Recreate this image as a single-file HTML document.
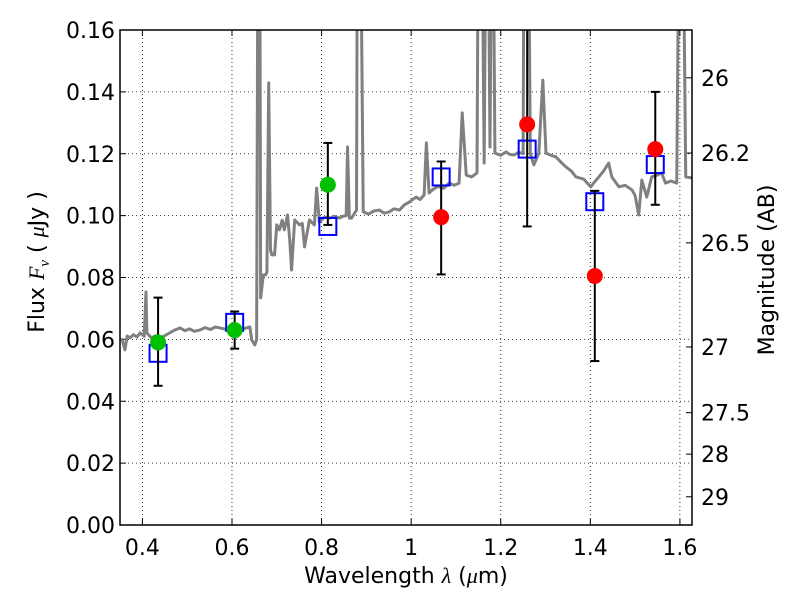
<!DOCTYPE html>
<html><head><meta charset="utf-8"><style>
body{margin:0;background:#fff}
svg{display:block;font-family:"DejaVu Sans","Liberation Sans",sans-serif}
</style></head><body>
<svg id="chart" width="800" height="600"></svg>
<script>
const xTicks=[0.4,0.6,0.8,1.0,1.2,1.4,1.6];
const xTickLabels=["0.4","0.6","0.8","1","1.2","1.4","1.6"];
const yTicks=[0,0.02,0.04,0.06,0.08,0.1,0.12,0.14,0.16];
const yTickLabels=["0.00","0.02","0.04","0.06","0.08","0.10","0.12","0.14","0.16"];
const magTicks=[26,26.2,26.5,27,27.5,28,29];
const magTickLabels=["26","26.2","26.5","27","27.5","28","29"];
const specWave=[0.354,0.361,0.366,0.372,0.380,0.388,0.395,0.404,0.408,0.410,0.420,0.430,0.439,0.450,0.461,0.472,0.484,0.495,0.505,0.516,0.528,0.540,0.552,0.563,0.573,0.585,0.596,0.607,0.617,0.630,0.640,0.644,0.651,0.655,0.658,0.662,0.664,0.670,0.675,0.678,0.682,0.686,0.689,0.695,0.700,0.706,0.712,0.717,0.724,0.729,0.733,0.740,0.751,0.757,0.762,0.773,0.784,0.789,0.795,0.806,0.818,0.829,0.840,0.848,0.855,0.858,0.862,0.867,0.878,0.880,0.887,0.893,0.905,0.917,0.929,0.940,0.951,0.962,0.974,0.985,0.996,1.011,1.020,1.029,1.034,1.040,1.047,1.060,1.072,1.085,1.096,1.107,1.114,1.123,1.135,1.147,1.150,1.158,1.163,1.167,1.172,1.176,1.180,1.183,1.187,1.200,1.212,1.220,1.230,1.240,1.250,1.252,1.262,1.266,1.274,1.285,1.294,1.301,1.312,1.323,1.335,1.346,1.357,1.368,1.385,1.401,1.410,1.419,1.430,1.441,1.448,1.464,1.478,1.493,1.500,1.508,1.515,1.526,1.537,1.548,1.559,1.568,1.580,1.593,1.598,1.607,1.613,1.627];
const specFlux=[0.0604,0.0566,0.0611,0.0605,0.0615,0.0608,0.0621,0.061,0.0753,0.0621,0.0605,0.0612,0.0604,0.0612,0.0621,0.063,0.0637,0.0628,0.0634,0.0626,0.063,0.0638,0.0632,0.064,0.0637,0.0633,0.0638,0.0631,0.063,0.0636,0.064,0.0598,0.0582,0.06,0.2,0.2,0.0734,0.0808,0.0808,0.0818,0.1429,0.0889,0.0873,0.0873,0.097,0.0954,0.0985,0.0954,0.1002,0.0921,0.0824,0.0986,0.097,0.0975,0.0899,0.0986,0.097,0.1089,0.0979,0.0995,0.0992,0.0998,0.0992,0.0998,0.1,0.1222,0.0992,0.0992,0.1018,0.2,0.2,0.1012,0.1005,0.1015,0.1018,0.1008,0.1012,0.1022,0.1018,0.1035,0.1044,0.106,0.1052,0.1067,0.1235,0.1073,0.1083,0.1095,0.1088,0.1105,0.1098,0.1105,0.1332,0.1131,0.1125,0.1138,0.2,0.2,0.117,0.2,0.2,0.1222,0.2,0.2,0.1202,0.1195,0.1206,0.1198,0.1196,0.1205,0.12,0.2,0.2,0.12,0.1164,0.1202,0.1438,0.1202,0.1195,0.119,0.1172,0.1157,0.1145,0.1125,0.1118,0.1093,0.111,0.1125,0.1145,0.117,0.1125,0.1093,0.1098,0.1083,0.1065,0.1002,0.1115,0.106,0.1125,0.113,0.1138,0.1105,0.1112,0.1105,0.2,0.2,0.1125,0.1122];
const bandWave=[0.435,0.606,0.814,1.067,1.259,1.41,1.545];
const obsFlux=[0.059,0.063,0.110,0.0995,0.1295,0.0805,0.1215];
const errLow=[0.045,0.057,0.097,0.081,0.0965,0.053,0.1035];
const errHigh=[0.0735,0.069,0.1235,0.1175,0.175,0.108,0.140];
const obsColor=["#00c000","#00c000","#00c000","#ff0000","#ff0000","#ff0000","#ff0000"];
const modelFlux=[0.0555,0.0655,0.0965,0.1125,0.1215,0.1045,0.1165];

const L=120,R=692,T=30,B=525,X0=0.35,X1=1.627,Y0=0,Y1=0.16;
const sx=v=>L+(v-X0)/(X1-X0)*(R-L);
const sy=v=>B-(v-Y0)/(Y1-Y0)*(B-T);
const svg=document.getElementById('chart');
const NS='http://www.w3.org/2000/svg';
function mk(tag,attrs,parent){const e=document.createElementNS(NS,tag);for(const k in attrs)e.setAttribute(k,attrs[k]);(parent||svg).appendChild(e);return e;}
const defs=mk('defs',{});const cp=mk('clipPath',{id:'clip'},defs);mk('rect',{x:L,y:T,width:R-L,height:B-T},cp);

xTicks.forEach((t,i)=>{
 const g=mk('line',{x1:sx(t),x2:sx(t),y1:T,y2:B,stroke:'#000','stroke-width':0.8,'stroke-dasharray':'1,3'});
 
 
 mk('line',{x1:sx(t),x2:sx(t),y1:B,y2:B-6,stroke:'#000'});
 mk('line',{x1:sx(t),x2:sx(t),y1:T,y2:T+6,stroke:'#000'});
 const tx=mk('text',{x:sx(t),y:B+30,'font-size':22,'text-anchor':'middle'});tx.textContent=xTickLabels[i];
 
 
});
yTicks.forEach((t,i)=>{
 const g=mk('line',{x1:L,x2:R,y1:sy(t),y2:sy(t),stroke:'#000','stroke-width':0.8,'stroke-dasharray':'1,3'});
 
 
 mk('line',{x1:L,x2:L+6,y1:sy(t),y2:sy(t),stroke:'#000'});
 const tx=mk('text',{x:L-5,y:sy(t)+8,'font-size':22,'text-anchor':'end'});tx.textContent=yTickLabels[i];
 
 
});
magTicks.forEach((m,i)=>{
 const f=Math.pow(10,(23.9-m)/2.5);const y=sy(f);
 mk('line',{x1:R,x2:R-6,y1:y,y2:y,stroke:'#000'});
 const tx=mk('text',{x:R+9,y:y+8,'font-size':22});tx.textContent=magTickLabels[i];
 
 
});

const gp=mk('g',{'clip-path':'url(#clip)'});
const pts=specWave.map((w,i)=>sx(w)+','+sy(specFlux[i])).join(' ');
const sp=mk('polyline',{points:pts,fill:'none',stroke:'#808080','stroke-width':3,'stroke-linejoin':'round'},gp);



bandWave.forEach((w,i)=>{
 const r=mk('rect',{x:sx(w)-8.5,y:sy(modelFlux[i])-8.5,width:17,height:17,fill:'none',stroke:'#0000ff','stroke-width':2},gp);
 
 
});
bandWave.forEach((w,i)=>{
 const x=sx(w);
 const e=mk('line',{x1:x,x2:x,y1:sy(errLow[i]),y2:sy(errHigh[i]),stroke:'#000','stroke-width':2},gp);
 
 
 mk('line',{x1:x-4.5,x2:x+4.5,y1:sy(errLow[i]),y2:sy(errLow[i]),stroke:'#000','stroke-width':2},gp);
 mk('line',{x1:x-4.5,x2:x+4.5,y1:sy(errHigh[i]),y2:sy(errHigh[i]),stroke:'#000','stroke-width':2},gp);
 const c=mk('circle',{cx:x,cy:sy(obsFlux[i]),r:8,fill:obsColor[i]},gp);
 
 
});

const fr=mk('rect',{x:L,y:T,width:R-L,height:B-T,fill:'none',stroke:'#000','stroke-width':1.5});



const xl=mk('text',{x:406,y:583,'font-size':22,'text-anchor':'middle'});
xl.innerHTML='Wavelength  <tspan font-style="italic" font-family="Liberation Serif, serif">λ</tspan> (<tspan font-style="italic" font-family="Liberation Serif, serif">μ</tspan>m)';


const yl=mk('text',{x:0,y:0,'font-size':22,'text-anchor':'middle',transform:'translate(44,262) rotate(-90)'});
yl.innerHTML='Flux  <tspan font-style="italic" font-family="Liberation Serif, serif">F</tspan><tspan font-style="italic" font-family="Liberation Serif, serif" font-size="15" dy="5">ν</tspan><tspan dy="-5">  (  </tspan><tspan font-style="italic" font-family="Liberation Serif, serif">μ</tspan>Jy )';


const rl=mk('text',{x:0,y:0,'font-size':22,'text-anchor':'middle',transform:'translate(774,270) rotate(-90)'});
rl.textContent='Magnitude (AB)';


</script>
</body></html>
